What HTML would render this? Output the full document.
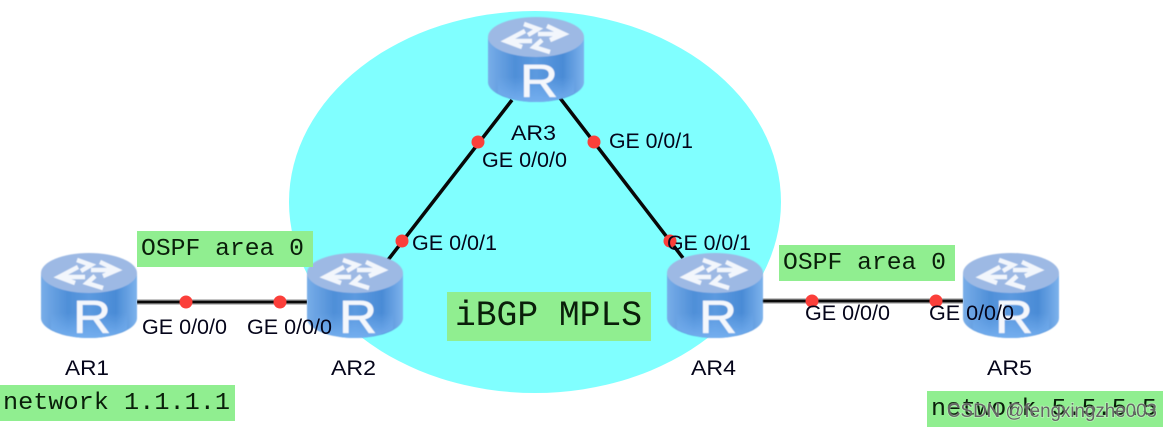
<!DOCTYPE html>
<html>
<head>
<meta charset="utf-8">
<style>
html,body{margin:0;padding:0;background:#fff;width:1174px;height:432px;overflow:hidden}
svg{display:block}
.s{font-family:"Liberation Sans",sans-serif;font-size:21.5px;fill:#05051a}
.m{font-family:"Liberation Mono",monospace;font-size:24px;fill:#0a1f0a}
</style>
</head>
<body>
<svg width="1174" height="432" viewBox="0 0 1174 432" xmlns="http://www.w3.org/2000/svg">
<defs>
<linearGradient id="body" x1="0" x2="1" y1="0" y2="0">
<stop offset="0" stop-color="#78ade8"/>
<stop offset="0.28" stop-color="#4f8fd8"/>
<stop offset="0.5" stop-color="#5c9ae0"/>
<stop offset="0.78" stop-color="#4a8bd6"/>
<stop offset="1" stop-color="#7db2ec"/>
</linearGradient>
<linearGradient id="low" x1="0" x2="0" y1="0" y2="1">
<stop offset="0" stop-color="#74aeee" stop-opacity="0"/>
<stop offset="1" stop-color="#74aeee"/>
</linearGradient>
<filter id="soft" x="-5%" y="-5%" width="110%" height="110%"><feGaussianBlur stdDeviation="0.45"/></filter>
<symbol id="r" width="96" height="85" viewBox="0 0 96 85" overflow="visible">
<g filter="url(#soft)">
<path d="M0 20V65C0 76 22 85 48 85S96 76 96 65V20Z" fill="url(#body)"/>
<path d="M10 60H86V76C76 82 62 85 48 85S20 82 10 76Z" fill="url(#low)"/>
<ellipse cx="48" cy="20" rx="48" ry="20" fill="#9db9e4"/>
<g fill="none" stroke="#f2f6fc" stroke-width="4.5">
<path d="M36 7L50 12L40 18"/>
<path d="M59 9L76 17L62 23M50 17H72"/>
<path d="M37 14L18 24L34 30M22 24H44"/>
<path d="M54 23L46 30L62 35"/>
</g>
<text x="51" y="80" text-anchor="middle" textLength="38" lengthAdjust="spacingAndGlyphs" style="font-family:'Liberation Sans',sans-serif;font-size:46px" fill="#f4f7fc" stroke="#f4f7fc" stroke-width="0.7">R</text>
</g>
</symbol>
</defs>

<rect width="1174" height="432" fill="#fff"/>
<ellipse cx="535" cy="202" rx="246" ry="191" fill="#80ffff"/>

<g stroke-linecap="butt">
<line x1="137" y1="302" x2="307" y2="302" stroke="#8a8a8a" stroke-width="5"/>
<line x1="137" y1="302" x2="307" y2="302" stroke="#0a0a0a" stroke-width="2.5"/>
<line x1="762" y1="301" x2="963" y2="301" stroke="#8a8a8a" stroke-width="5"/>
<line x1="762" y1="301" x2="963" y2="301" stroke="#0a0a0a" stroke-width="2.5"/>
<line x1="388" y1="260" x2="512" y2="100" stroke="#080808" stroke-width="3.5"/>
<line x1="560" y1="98" x2="683" y2="258" stroke="#080808" stroke-width="3.5"/>
</g>

<use href="#r" x="41" y="253"/>
<use href="#r" x="307" y="253"/>
<use href="#r" x="488" y="17"/>
<use href="#r" x="667" y="253"/>
<use href="#r" x="963" y="253"/>

<g fill="#fb3f3a">
<circle cx="186" cy="302" r="6.5"/>
<circle cx="280" cy="302" r="6.5"/>
<circle cx="402" cy="241" r="6.5"/>
<circle cx="478" cy="142" r="6.5"/>
<circle cx="594" cy="142" r="6.5"/>
<circle cx="670" cy="241" r="6.5"/>
<circle cx="812" cy="301" r="6.5"/>
<circle cx="936" cy="301" r="6.5"/>
</g>

<g fill="#90ee90">
<rect x="137" y="231" width="176" height="36"/>
<rect x="0" y="385" width="235" height="36"/>
<rect x="779" y="245" width="176" height="36"/>
<rect x="927" y="391" width="236" height="36"/>
<rect x="447" y="292" width="204" height="49"/>
</g>

<g class="m">
<text class="m" x="141" y="255" textLength="163" lengthAdjust="spacingAndGlyphs">OSPF area 0</text>
<text class="m" x="3" y="409" textLength="227" lengthAdjust="spacingAndGlyphs">network 1.1.1.1</text>
<text class="m" x="783" y="269" textLength="163" lengthAdjust="spacingAndGlyphs">OSPF area 0</text>
<text class="m" x="931" y="415" textLength="226" lengthAdjust="spacingAndGlyphs">network 5.5.5.5</text>
<text class="m" style="font-size:35px" x="455" y="325" textLength="187" lengthAdjust="spacingAndGlyphs">iBGP MPLS</text>
</g>

<g class="s">
<text class="s" x="142" y="334" textLength="85" lengthAdjust="spacingAndGlyphs">GE 0/0/0</text>
<text class="s" x="247" y="334" textLength="85" lengthAdjust="spacingAndGlyphs">GE 0/0/0</text>
<text class="s" x="412" y="250" textLength="85" lengthAdjust="spacingAndGlyphs">GE 0/0/1</text>
<text class="s" x="482" y="167" textLength="85" lengthAdjust="spacingAndGlyphs">GE 0/0/0</text>
<text class="s" x="609" y="148" textLength="84" lengthAdjust="spacingAndGlyphs">GE 0/0/1</text>
<text class="s" x="667" y="250" textLength="84" lengthAdjust="spacingAndGlyphs">GE 0/0/1</text>
<text class="s" x="805" y="320" textLength="85" lengthAdjust="spacingAndGlyphs">GE 0/0/0</text>
<text class="s" x="929" y="320" textLength="85" lengthAdjust="spacingAndGlyphs">GE 0/0/0</text>
<text class="s" x="65" y="375" textLength="44" lengthAdjust="spacingAndGlyphs">AR1</text>
<text class="s" x="331" y="375" textLength="45" lengthAdjust="spacingAndGlyphs">AR2</text>
<text class="s" x="511" y="140" textLength="45" lengthAdjust="spacingAndGlyphs">AR3</text>
<text class="s" x="691" y="375" textLength="45" lengthAdjust="spacingAndGlyphs">AR4</text>
<text class="s" x="987" y="375" textLength="45" lengthAdjust="spacingAndGlyphs">AR5</text>
</g>

<text x="947" y="417" textLength="210" lengthAdjust="spacingAndGlyphs" style="font-family:'Liberation Sans',sans-serif;font-size:19px;paint-order:stroke" fill="#666" stroke="#fff" stroke-opacity="0.35" stroke-width="1.5">CSDN @fengxingzhe003</text>
</svg>
</body>
</html>
